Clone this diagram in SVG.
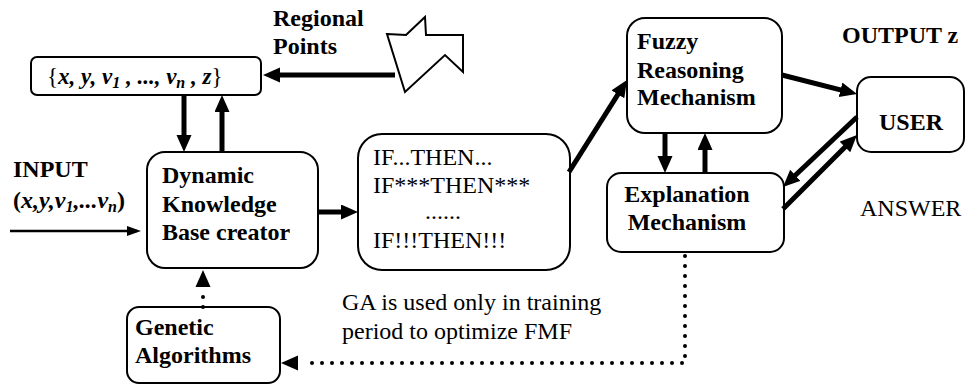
<svg xmlns="http://www.w3.org/2000/svg" width="966" height="390" viewBox="0 0 966 390">
<style>
  text { font-family: "Liberation Serif", "Times New Roman", Times, "DejaVu Serif", serif; fill: #000; }
  .box { fill: #fff; stroke: #000; stroke-width: 2; }
  .b { font-weight: bold; font-size: 24px; }
  .r { font-size: 24px; }
  .bi { font-weight: bold; font-style: italic; }
  .thick { stroke: #000; stroke-width: 5; fill: none; }
  .thin { stroke: #000; stroke-width: 2.5; fill: none; }
  .dot { stroke: #000; stroke-width: 4; stroke-linecap: round; stroke-dasharray: 0 10; fill: none; }
</style>
<defs>
  <marker id="ah" markerUnits="userSpaceOnUse" markerWidth="19" markerHeight="17" refX="8" refY="7.5" orient="auto">
    <path d="M0,0 L17,7.5 L0,15 z" fill="#000"/>
  </marker>
  <marker id="ahs" markerUnits="userSpaceOnUse" markerWidth="16" markerHeight="12" refX="10" refY="5" orient="auto">
    <path d="M0,0 L14,5 L0,10 z" fill="#000"/>
  </marker>
</defs>

<g id="regional-points">
  <text class="b" x="273" y="26">Regional</text>
  <text class="b" x="273" y="54">Points</text>
  <polygon points="387,34 406,35 425,17 426,35 463,35 463,72 445,55 405,92" fill="#fff" stroke="#000" stroke-width="2" stroke-linejoin="miter"/>
</g>

<g id="data-set">
  <rect class="box" x="31" y="57" width="230" height="38" rx="6"/>
  <text class="bi" x="47" y="84" font-size="23"><tspan font-style="normal" font-weight="normal">{</tspan>x, y, v<tspan font-size="16" dy="4">1</tspan><tspan dy="-4"> , ..., v</tspan><tspan font-size="16" dy="4">n</tspan><tspan dy="-4"> , z</tspan><tspan font-style="normal" font-weight="normal">}</tspan></text>
</g>

<g id="input">
  <text class="b" x="13" y="177">INPUT</text>
  <text class="bi" x="13" y="208" font-size="24"><tspan font-style="normal">(</tspan>x,y,v<tspan font-size="16" dy="4">1</tspan><tspan dy="-4">,...v</tspan><tspan font-size="16" dy="4">n</tspan><tspan dy="-4" font-style="normal">)</tspan></text>
</g>

<g id="dynamic-kb">
  <rect class="box" x="147" y="152" width="171" height="116" rx="18"/>
  <text class="b" x="162" y="183">Dynamic</text>
  <text class="b" x="162" y="212">Knowledge</text>
  <text class="b" x="162" y="240">Base creator</text>
</g>

<g id="rules">
  <rect class="box" x="358" y="134" width="212" height="136" rx="24"/>
  <text class="r" x="373" y="165">IF...THEN...</text>
  <text class="r" x="373" y="193">IF***THEN***</text>
  <text class="r" x="425" y="219">......</text>
  <text class="r" x="373" y="248">IF!!!THEN!!!</text>
</g>

<g id="fuzzy">
  <rect class="box" x="627" y="18" width="155" height="115" rx="18"/>
  <text class="b" x="637" y="49">Fuzzy</text>
  <text class="b" x="637" y="78">Reasoning</text>
  <text class="b" x="637" y="105">Mechanism</text>
</g>

<g id="explanation">
  <rect class="box" x="607" y="173" width="177" height="79" rx="14"/>
  <text class="b" x="687" y="202" text-anchor="middle">Explanation</text>
  <text class="b" x="687" y="230" text-anchor="middle">Mechanism</text>
</g>

<g id="user">
  <text class="b" x="842" y="43">OUTPUT z</text>
  <rect class="box" x="857" y="77" width="107" height="75" rx="14"/>
  <text class="b" x="911" y="130" text-anchor="middle">USER</text>
  <text class="r" x="860" y="216">ANSWER</text>
</g>

<g id="genetic">
  <rect class="box" x="127" y="307" width="153" height="76" rx="12"/>
  <text class="b" x="135" y="335">Genetic</text>
  <text class="b" x="135" y="363">Algorithms</text>
</g>

<g id="note">
  <text class="r" x="342" y="310">GA is used only in training</text>
  <text class="r" x="342" y="339">period to optimize FMF</text>
</g>

<g id="connectors">
  <line class="thick" x1="395" y1="75" x2="272" y2="75" marker-end="url(#ah)"/>
  <line class="thick" x1="184" y1="95" x2="184" y2="143" marker-end="url(#ah)"/>
  <line class="thick" x1="222" y1="152" x2="222" y2="104" marker-end="url(#ah)"/>
  <line class="thin" x1="10" y1="231" x2="137" y2="231" marker-end="url(#ahs)"/>
  <line class="thick" x1="318" y1="212" x2="349" y2="212" marker-end="url(#ah)"/>
  <line class="thick" x1="569" y1="172" x2="622.2" y2="87.6" marker-end="url(#ah)"/>
  <line class="thick" x1="782" y1="75" x2="848.3" y2="91.8" marker-end="url(#ah)"/>
  <line class="thick" x1="665" y1="133" x2="665" y2="164" marker-end="url(#ah)"/>
  <line class="thick" x1="705" y1="173" x2="705" y2="142" marker-end="url(#ah)"/>
  <line class="thick" x1="857" y1="117" x2="789.5" y2="180.8" marker-end="url(#ah)"/>
  <line class="thick" x1="783" y1="209" x2="850.6" y2="141.4" marker-end="url(#ah)"/>
  <path class="dot" d="M203,307 L203,292"/>
  <path d="M203,270 L210.5,287 L195.5,287 z" fill="#000"/>
  <path class="dot" d="M685,256 L685,363 L305,363"/>
  <path d="M281,363 L298,355.5 L298,370.5 z" fill="#000"/>
</g>
</svg>
